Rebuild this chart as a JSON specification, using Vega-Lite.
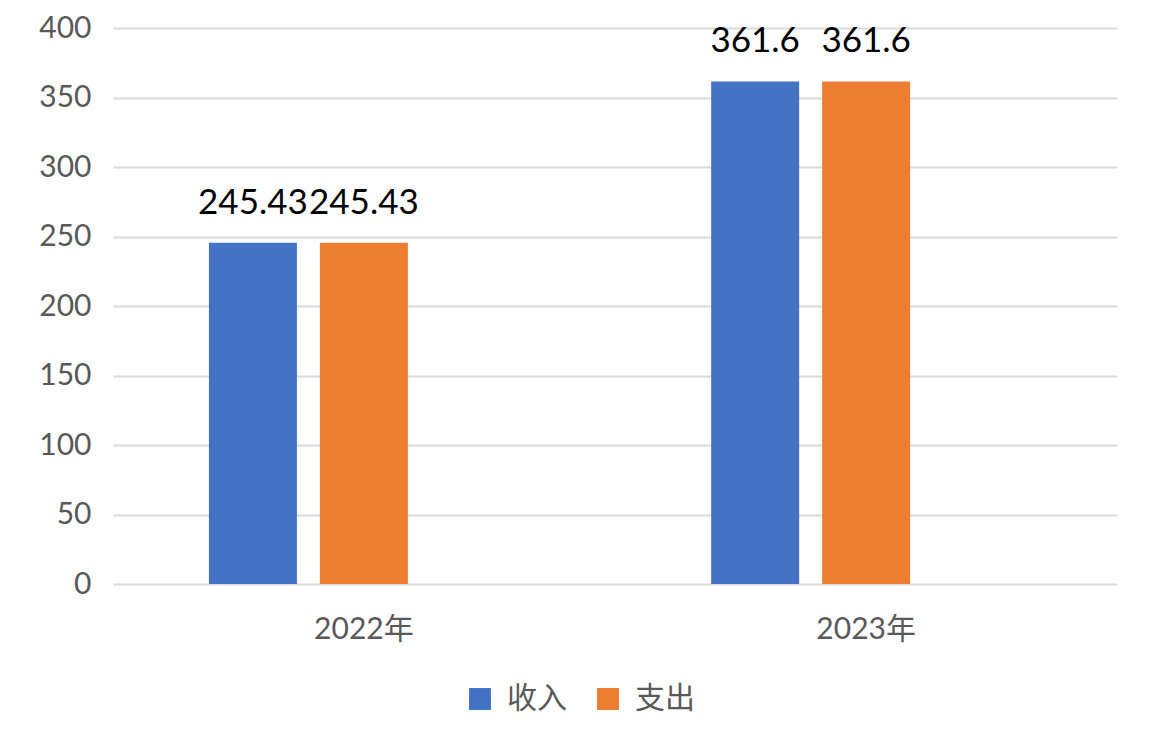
{
  "$schema": "https://vega.github.io/schema/vega-lite/v6.json",
  "width": 1004,
  "height": 556,
  "autosize": {"type": "none"},
  "padding": {"left": 113, "top": 28, "right": 35, "bottom": 172},
  "background": "#ffffff",
  "config": {
    "font": "Lato, Noto Sans CJK SC",
    "view": {"stroke": null}
  },
  "data": {
    "values": [
      {"year": "2022年", "series": "收入", "value": 245.43},
      {"year": "2022年", "series": "支出", "value": 245.43},
      {"year": "2023年", "series": "收入", "value": 361.6},
      {"year": "2023年", "series": "支出", "value": 361.6}
    ]
  },
  "encoding": {
    "x": {
      "field": "year", "type": "nominal",
      "scale": {"paddingInner": 0.383, "paddingOuter": 0.191},
      "axis": {
        "title": null, "labelAngle": 0, "domain": false, "ticks": false,
        "labelFontSize": 30, "labelColor": "#595959", "labelPadding": 30,
        "labelFont": "Lato, Noto Sans CJK SC"
      }
    },
    "xOffset": {
      "field": "series", "type": "nominal",
      "scale": {"domain": ["收入", "支出", "_"], "paddingInner": 0.207, "paddingOuter": 0}
    },
    "y": {
      "field": "value", "type": "quantitative",
      "scale": {"domain": [0, 400], "nice": false},
      "axis": {
        "title": null, "values": [0, 50, 100, 150, 200, 250, 300, 350, 400],
        "domain": false, "ticks": false, "gridColor": "#d9d9d9", "gridWidth": 2,
        "labelFontSize": 30, "labelColor": "#595959", "labelPadding": 22
      }
    }
  },
  "layer": [
    {
      "mark": {"type": "bar"},
      "encoding": {
        "color": {
          "field": "series", "type": "nominal",
          "scale": {"domain": ["收入", "支出"], "range": ["#4472C4", "#ED7D31"]},
          "legend": {
            "title": null, "orient": "none", "legendX": 352, "legendY": 656,
            "direction": "horizontal",
            "symbolType": "square", "symbolSize": 480, "symbolStrokeWidth": 0,
            "labelFontSize": 30, "labelColor": "#595959",
            "columnPadding": 26, "labelOffset": 12,
            "labelFont": "Noto Sans CJK SC"
          }
        }
      }
    },
    {
      "mark": {"type": "text", "baseline": "bottom", "dy": -22, "fontSize": 35, "color": "#000000"},
      "encoding": {
        "text": {"field": "value", "type": "quantitative"}
      }
    }
  ]
}
